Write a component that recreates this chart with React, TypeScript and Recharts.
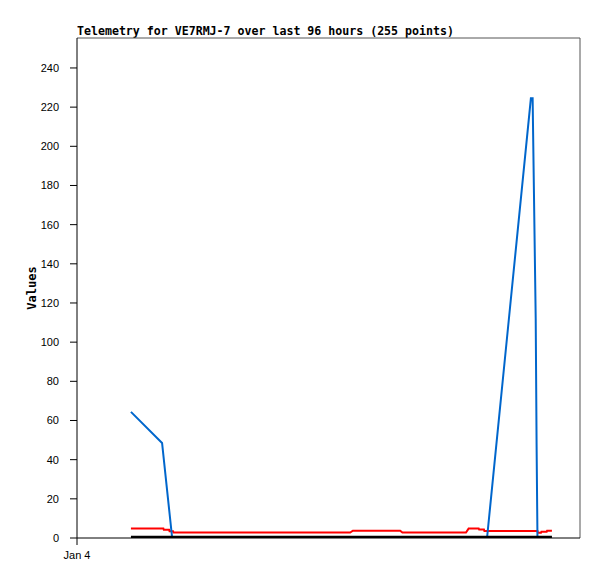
import React from "react";
import { LineChart, Line, XAxis, YAxis, ReferenceLine, Label } from "recharts";

// time in hours since Jan 4 00:00
const xTicks = [0];
const xTickLabels = ["Jan 4"];
const yTicks = [0, 20, 40, 60, 80, 100, 120, 140, 160, 180, 200, 220, 240];
const xMax = 114.7;
const yMax = 255.3;

const blackSeries = [
  { t: 12.3, v: 0.4 },
  { t: 108.3, v: 0.4 },
];

const redSeries = [
  { t: 12.3, v: 4.8 },
  { t: 19.7, v: 4.8 },
  { t: 19.8, v: 4.2 },
  { t: 21.0, v: 4.2 },
  { t: 21.1, v: 3.5 },
  { t: 21.9, v: 3.5 },
  { t: 22.0, v: 2.8 },
  { t: 62.3, v: 2.8 },
  { t: 62.9, v: 3.7 },
  { t: 73.7, v: 3.7 },
  { t: 74.2, v: 2.8 },
  { t: 88.7, v: 2.8 },
  { t: 89.3, v: 4.8 },
  { t: 91.6, v: 4.8 },
  { t: 91.7, v: 4.3 },
  { t: 92.8, v: 4.3 },
  { t: 92.9, v: 3.6 },
  { t: 105.0, v: 3.6 },
  { t: 105.1, v: 2.7 },
  { t: 105.8, v: 2.7 },
  { t: 105.9, v: 3.2 },
  { t: 107.1, v: 3.2 },
  { t: 107.2, v: 3.7 },
  { t: 108.3, v: 3.7 },
];

const blueSeries = [
  { t: 12.3, v: 64.4 },
  { t: 19.4, v: 48.5 },
  { t: 21.7, v: 0 },
  { t: 93.5, v: 0 },
  { t: 103.5, v: 224.5 },
  { t: 103.9, v: 224.5 },
  { t: 104.0, v: 208 },
  { t: 104.2, v: 176 },
  { t: 104.4, v: 144 },
  { t: 104.6, v: 112 },
  { t: 104.8, v: 48 },
  { t: 105.0, v: 0 },
];

const tickFont = { fontFamily: "'Liberation Sans', Arial, sans-serif", fontSize: 11, fill: "#000" };

export default function App() {
  return (
    <div style={{ position: "absolute", left: 0, top: 0, width: 597, height: 579, background: "#fff" }}>
      <div
        style={{
          position: "absolute",
          left: 77,
          top: 24,
          fontFamily: "'DejaVu Sans Mono', monospace",
          fontWeight: "bold",
          fontSize: 11.6,
          lineHeight: "14px",
          whiteSpace: "pre",
          color: "#000",
        }}
      >
        Telemetry for VE7RMJ-7 over last 96 hours (255 points)
      </div>
      <LineChart
        width={597}
        height={579}
        margin={{ top: 38, right: 17, left: 0, bottom: 0 }}
      >
        <XAxis
          dataKey="t"
          type="number"
          domain={[0, xMax]}
          ticks={xTicks}
          tickFormatter={(v: number) => xTickLabels[xTicks.indexOf(v)] ?? ""}
          height={41}
          tickSize={7}
          tickMargin={6}
          stroke="#000"
          tick={tickFont}
          allowDataOverflow
        />
        <YAxis
          type="number"
          domain={[0, yMax]}
          ticks={yTicks}
          width={77}
          tickSize={7}
          tickMargin={11}
          stroke="#000"
          tick={tickFont}
          allowDataOverflow
        >
          <Label
            value="Values"
            angle={-90}
            position="insideLeft"
            offset={32}
            style={{ fontFamily: "'DejaVu Sans Mono', monospace", fontWeight: "bold", fontSize: 12, fill: "#000", textAnchor: "middle" }}
          />
        </YAxis>
        <ReferenceLine y={yMax} stroke="#555" strokeWidth={1} />
        <ReferenceLine x={xMax} stroke="#555" strokeWidth={1} />
        <Line data={redSeries} dataKey="v" type="linear" stroke="#ff0000" strokeWidth={2} dot={false} isAnimationActive={false} />
        <Line data={blueSeries} dataKey="v" type="linear" stroke="#0066cc" strokeWidth={2} dot={false} isAnimationActive={false} />
        <Line data={blackSeries} dataKey="v" type="linear" stroke="#000" strokeWidth={3} dot={false} isAnimationActive={false} />
      </LineChart>
    </div>
  );
}
